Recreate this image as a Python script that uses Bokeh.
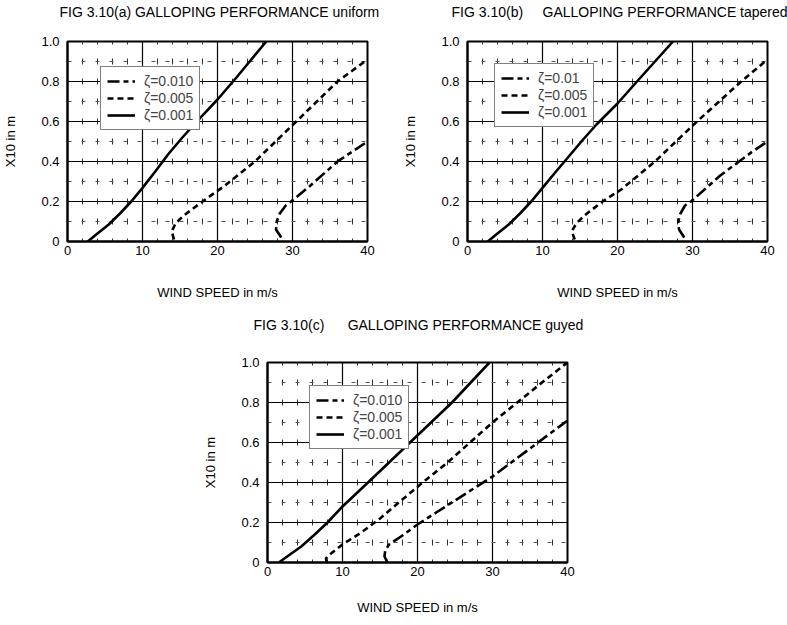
from bokeh.plotting import figure
from bokeh.layouts import column, row
from bokeh.models import FixedTicker, Legend, LegendItem, Range1d, Spacer, Title
from bokeh.embed import file_html
from bokeh.resources import INLINE

FONT = "Liberation Sans"
NBSP = "\u00a0"

# Axis ticks shared by the three panels
x_ticks = [0, 10, 20, 30, 40]
x_minor_ticks = [2, 4, 6, 8, 12, 14, 16, 18, 22, 24, 26, 28, 32, 34, 36, 38]
y_ticks = [0, 0.2, 0.4, 0.6, 0.8, 1.0]
y_minor_ticks = [0.1, 0.3, 0.5, 0.7, 0.9]
y_tick_text = {0: "0", 1: "1.0"}

# (a) uniform
a_speed_010 = [28.5, 27.8, 27.9, 28.3, 29.1, 29.8, 32.4, 36.0, 40.0]
a_x10_010 = [0.02, 0.06, 0.10, 0.14, 0.18, 0.20, 0.28, 0.40, 0.50]
a_speed_005 = [14.2, 13.9, 14.4, 15.5, 18.0, 21.0, 25.0, 30.5, 36.0, 40.0]
a_x10_005 = [0.01, 0.05, 0.09, 0.13, 0.20, 0.28, 0.40, 0.60, 0.80, 0.91]
a_speed_001 = [2.7, 4.0, 5.5, 7.0, 8.5, 10.0, 11.7, 13.4, 15.2, 17.0, 20.0, 22.3, 24.4, 26.5]
a_x10_001 = [0.0, 0.04, 0.085, 0.14, 0.20, 0.268, 0.35, 0.435, 0.515, 0.59, 0.71, 0.81, 0.905, 1.0]
a_labels = ["ζ=0.010", "ζ=0.005", "ζ=0.001"]

# (b) tapered
b_speed_010 = [28.9, 28.2, 28.1, 28.4, 29.0, 29.8, 33.7, 38.0, 40.0]
b_x10_010 = [0.02, 0.06, 0.10, 0.14, 0.18, 0.20, 0.33, 0.45, 0.50]
b_speed_005 = [14.3, 13.9, 14.5, 15.6, 18.0, 20.5, 25.0, 30.6, 36.5, 40.0]
b_x10_005 = [0.01, 0.05, 0.09, 0.13, 0.20, 0.26, 0.40, 0.60, 0.80, 0.91]
b_speed_001 = [2.7, 4.0, 5.5, 7.0, 8.5, 10.0, 11.8, 13.5, 15.3, 17.2, 20.0, 22.6, 25.0, 27.4]
b_x10_001 = [0.0, 0.04, 0.085, 0.14, 0.20, 0.268, 0.35, 0.425, 0.505, 0.585, 0.69, 0.80, 0.90, 1.0]
b_labels = ["ζ=0.01", "ζ=0.005", "ζ=0.001"]

# (c) guyed
c_speed_010 = [16.0, 15.6, 15.7, 16.2, 17.8, 20.0, 22.5, 25.0, 27.5, 30.0, 32.5, 35.0, 37.5, 40.0]
c_x10_010 = [0.0, 0.03, 0.06, 0.09, 0.13, 0.19, 0.25, 0.31, 0.37, 0.43, 0.50, 0.57, 0.64, 0.71]
c_speed_005 = [7.9, 7.8, 8.3, 10.0, 12.5, 15.0, 17.5, 20.7, 24.0, 27.0, 30.0, 33.3, 36.6, 40.0]
c_x10_005 = [0.0, 0.02, 0.04, 0.09, 0.15, 0.22, 0.30, 0.40, 0.50, 0.60, 0.70, 0.80, 0.90, 1.0]
c_speed_001 = [1.5, 3.0, 4.5, 6.3, 8.0, 10.0, 13.4, 16.2, 19.0, 21.8, 24.6, 27.1, 29.6]
c_x10_001 = [0.0, 0.04, 0.08, 0.14, 0.20, 0.28, 0.40, 0.50, 0.60, 0.70, 0.80, 0.90, 1.0]
c_labels = ["ζ=0.010", "ζ=0.005", "ζ=0.001"]

DASHES = ["12 4 5 4", "6 4", "solid"]


def panel(width, height, top, bottom, left, right, curves, labels, legend_xy,
          heading, heading_offset, heading_lift, x_label_gap, tick_gap):
    p = figure(width=width, height=height, output_backend="svg", toolbar_location=None,
               x_range=Range1d(0, 40), y_range=Range1d(0, 1), title=None,
               min_border_top=top, min_border_bottom=bottom,
               min_border_left=left, min_border_right=right)
    # an empty strip next to the frame, then the heading above it
    p.add_layout(Title(text=NBSP, text_font_size="1px", standoff=heading_lift), "above")
    p.add_layout(Title(text=heading, align="left", offset=heading_offset, standoff=0,
                       text_font=FONT, text_font_size="14px", text_font_style="normal",
                       text_color="black"), "above")
    p.background_fill_color = "white"
    p.border_fill_color = "white"
    p.outline_line_color = "black"
    p.outline_line_width = 2

    p.xaxis.ticker = FixedTicker(ticks=x_ticks, minor_ticks=x_minor_ticks)
    p.yaxis.ticker = FixedTicker(ticks=y_ticks, minor_ticks=y_minor_ticks)
    p.yaxis.major_label_overrides = y_tick_text

    for ax in (p.xaxis, p.yaxis):
        ax.axis_line_color = "black"
        ax.axis_line_width = 2
        ax.major_tick_in = 0
        ax.major_tick_out = 0
        ax.minor_tick_in = 0
        ax.minor_tick_out = 0
        ax.major_label_text_font = FONT
        ax.major_label_text_font_size = "13px"
        ax.major_label_text_color = "black"
        ax.axis_label_text_font = FONT
        ax.axis_label_text_font_size = "13px"
        ax.axis_label_text_font_style = "normal"
        ax.axis_label_text_color = "black"
    p.xaxis.axis_label = "WIND SPEED in m/s"
    p.yaxis.axis_label = "X10 in m"
    p.xaxis.major_label_standoff = tick_gap
    p.xaxis.axis_label_standoff = x_label_gap
    p.yaxis.major_label_standoff = 8
    p.yaxis.axis_label_standoff = 20

    p.xgrid.grid_line_color = "black"
    p.ygrid.grid_line_color = "black"
    p.xgrid.grid_line_width = 1.2
    p.ygrid.grid_line_width = 1.2
    # broken minor grid: short ticks on the 2 m/s lines, dashes on the odd tenths
    p.xgrid.minor_grid_line_color = "#333333"
    p.xgrid.minor_grid_line_dash = "6 14"
    p.xgrid.minor_grid_line_dash_offset = 3
    p.ygrid.minor_grid_line_color = "#555555"
    p.ygrid.minor_grid_line_dash = "4 10"

    items = []
    for (xs, ys), lab, dash in zip(curves, labels, DASHES):
        r = p.line(xs, ys, line_color="black", line_width=2.6, line_dash=dash,
                   line_join="round")
        items.append(LegendItem(label=lab, renderers=[r]))

    legend = Legend(items=items, location=legend_xy,
                    border_line_color="black", border_line_width=1.5,
                    background_fill_color="white", background_fill_alpha=1.0,
                    label_text_font=FONT, label_text_font_size="14px",
                    glyph_width=28, glyph_height=14, label_height=14,
                    spacing=1, padding=6, margin=0, label_standoff=9)
    p.add_layout(legend)
    return p


pa = panel(400, 308, 41, 67, 66, 33,
           [(a_speed_010, a_x10_010), (a_speed_005, a_x10_005), (a_speed_001, a_x10_001)],
           a_labels, (33, 111),
           "FIG 3.10(a) GALLOPING PERFORMANCE uniform", -8, 19, 27, 4)

pb = panel(387, 308, 41, 67, 66, 20,
           [(b_speed_010, b_x10_010), (b_speed_005, b_x10_005), (b_speed_001, b_x10_001)],
           b_labels, (27, 114),
           "FIG 3.10(b)" + NBSP * 5 + "GALLOPING PERFORMANCE tapered", -16, 19, 27, 4)

pc = panel(387, 317, 54, 63, 66, 20,
           [(c_speed_010, c_x10_010), (c_speed_005, c_x10_005), (c_speed_001, c_x10_001)],
           c_labels, (42, 113),
           "FIG 3.10(c)" + NBSP * 6 + "GALLOPING PERFORMANCE guyed", -14, 27, 21, 4)

layout = column(row(pa, pb), row(Spacer(width=200, height=317), pc))

open("out.html", "w").write(file_html(layout, INLINE))
